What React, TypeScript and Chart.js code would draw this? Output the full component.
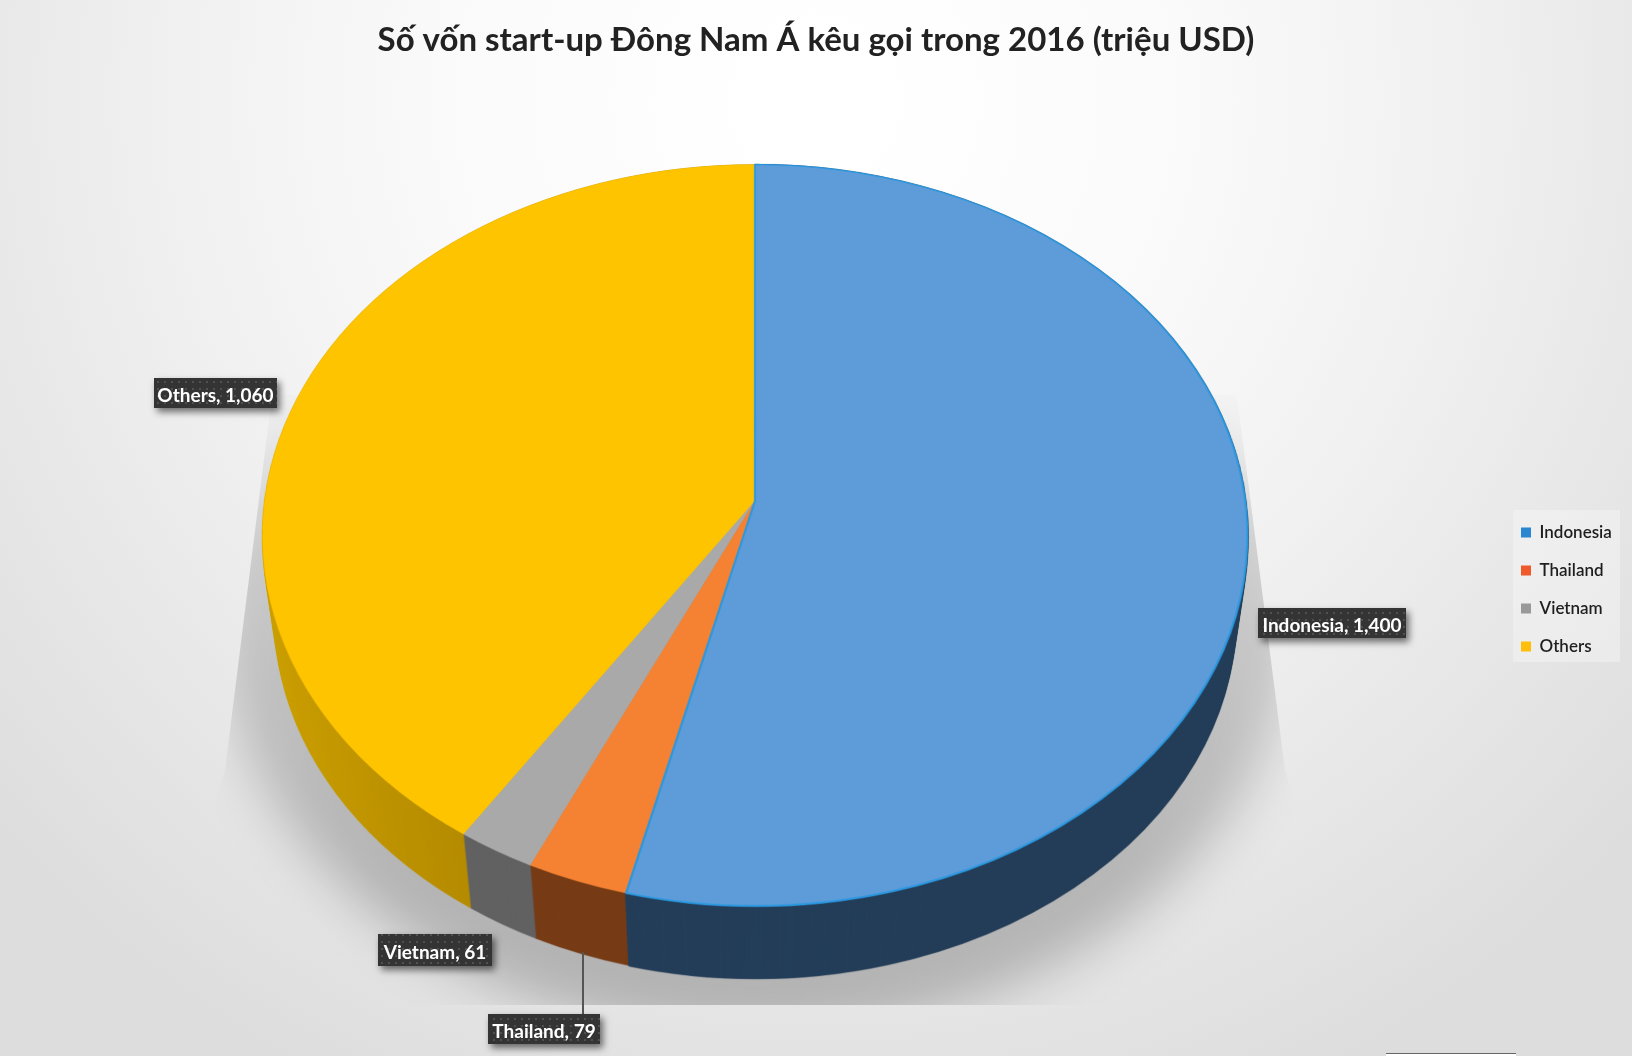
import React, { useEffect, useRef } from "react";
import { Chart, registerables } from "chart.js";

Chart.register(...registerables);

const CHART_TITLE = "Số vốn start-up Đông Nam Á kêu gọi trong 2016 (triệu USD)";
const categories = ["Indonesia", "Thailand", "Vietnam", "Others"];
const values = [1400, 79, 61, 1060];
const faceColors = ["#5D9CD8", "#F58232", "#A9A9A9", "#FFC400"];
const edgeColors = ["#2A97E0", "#F58232", "#A9A9A9", "#FFC400"];
const wallColors = ["#233D58", "#763B15", "#616161", "#A88000"];
const legendColors = ["#2B86D2", "#F0592A", "#999999", "#FFBE0A"];
const labelBoxes = [
  { x: 1258, y: 608, w: 148, h: 30 },
  { x: 488, y: 1014, w: 112, h: 30 },
  { x: 378, y: 934, w: 114, h: 32 },
  { x: 154, y: 378, w: 123, h: 30 },
];

const W = 1632;
const H = 1056;
const SS = 2;
const OFF = 1200;
const OFF_R = 590;
// perspective of the pie plane
const CX = 755;
const Y0 = 501;
const P = 321.3;
const G = -0.0924;
const A = 490.4;
const WALL_MID = 535;

function makeCanvas(w: number, h: number) {
  const c = document.createElement("canvas");
  c.width = w;
  c.height = h;
  return c;
}

function warp(src: HTMLCanvasElement) {
  const out = makeCanvas(W * SS, H * SS);
  const ctx = out.getContext("2d")!;
  ctx.imageSmoothingEnabled = true;
  ctx.imageSmoothingQuality = "high";
  const vOf = (y: number) => (y - Y0) / (P - G * y);
  for (let row = 150 * SS; row < 925 * SS; row++) {
    const v0 = vOf(row / SS);
    const v1 = vOf((row + 1) / SS);
    const denom = 1 + G * ((v0 + v1) / 2);
    const dw = (2 * A * (OFF / 2 / OFF_R)) / denom;
    ctx.drawImage(
      src,
      0,
      OFF / 2 + v0 * OFF_R,
      OFF,
      (v1 - v0) * OFF_R,
      (CX - dw / 2) * SS,
      row,
      dw * SS,
      1
    );
  }
  return out;
}

function arcLayer(chart: any, paint: (i: number, c: CanvasRenderingContext2D) => void) {
  const meta = chart.getDatasetMeta(0);
  const arcs = meta.data;
  const layer = makeCanvas(OFF, OFF);
  const lctx = layer.getContext("2d")!;
  for (let i = arcs.length - 1; i >= 0; i--) {
    const arc = arcs[i];
    const tmp = makeCanvas(OFF, OFF);
    const t = tmp.getContext("2d")!;
    const k = OFF_R / arc.outerRadius;
    t.setTransform(k, 0, 0, k, OFF / 2 - arc.x * k, OFF / 2 - arc.y * k);
    arc.draw(t);
    t.setTransform(1, 0, 0, 1, 0, 0);
    paint(i, t);
    lctx.drawImage(tmp, 0, 0);
  }
  return layer;
}

const scenePlugin = {
  id: "scene",
  beforeDraw(chart: any) {
    const ctx: CanvasRenderingContext2D = chart.ctx;
    ctx.save();
    // backdrop
    ctx.fillStyle = "#DEDEDE";
    ctx.fillRect(0, 0, W, H);
    const g = ctx.createRadialGradient(816, 100, 60, 816, 100, 1100);
    g.addColorStop(0, "#FFFFFF");
    g.addColorStop(0.3, "#FAFAFA");
    g.addColorStop(0.55, "#F1F1F1");
    g.addColorStop(0.75, "#E8E8E8");
    g.addColorStop(1, "#DDDDDD");
    ctx.fillStyle = g;
    ctx.fillRect(0, 0, W, H);
    // ground shadow, clipped to its wedge
    ctx.save();
    ctx.beginPath();
    ctx.moveTo(272, 395);
    ctx.lineTo(225, 770);
    ctx.lineTo(150, 1005);
    ctx.lineTo(1360, 1005);
    ctx.lineTo(1285, 770);
    ctx.lineTo(1237, 395);
    ctx.closePath();
    ctx.clip();
    ctx.filter = "blur(26px)";
    const sg = ctx.createLinearGradient(0, 385, 0, 880);
    sg.addColorStop(0, "rgba(0,0,0,0)");
    sg.addColorStop(0.3, "rgba(0,0,0,0.15)");
    sg.addColorStop(1, "rgba(0,0,0,0.22)");
    ctx.fillStyle = sg;
    ctx.beginPath();
    ctx.ellipse(755, 612, 538, 425, 0, 0, Math.PI * 2);
    ctx.fill();
    ctx.filter = "none";
    ctx.restore();
    // legend panel
    ctx.fillStyle = "rgba(255,255,255,0.3)";
    ctx.fillRect(1513, 510, 107, 152);
    // cropped box at the bottom edge
    ctx.fillStyle = "#FFFFFF";
    ctx.fillRect(1386, 1053, 130, 3);
    ctx.fillStyle = "#666666";
    ctx.fillRect(1386, 1053, 130, 1);
    ctx.restore();
  },
  afterLayout(chart: any) {
    const l = chart.legend;
    const w = l.width;
    const h = l.height;
    l.left = 1500;
    l.top = 503;
    l.right = 1500 + w;
    l.bottom = 503 + h;
  },
  beforeDatasetsDraw(chart: any) {
    const ctx: CanvasRenderingContext2D = chart.ctx;
    const top = arcLayer(chart, () => {});
    const wall = arcLayer(chart, (i, t) => {
      t.globalCompositeOperation = "source-in";
      if (i === 3) {
        const lg = t.createLinearGradient(0, 0, 420, 0);
        lg.addColorStop(0, "#CDA000");
        lg.addColorStop(1, wallColors[3]);
        t.fillStyle = lg;
      } else {
        t.fillStyle = wallColors[i];
      }
      t.fillRect(0, 0, OFF, OFF);
      t.globalCompositeOperation = "source-over";
    });
    const topWarp = warp(top);
    const wallWarp = warp(wall);
    ctx.save();
    ctx.imageSmoothingEnabled = true;
    ctx.imageSmoothingQuality = "high";
    const steps = 72;
    for (let n = steps; n >= 0; n--) {
      const t = n / steps;
      const s = 1 - 0.025 * t;
      const d = 81.5 * t;
      ctx.drawImage(wallWarp, CX - CX * s, WALL_MID - WALL_MID * s + d, W * s, H * s);
    }
    ctx.drawImage(topWarp, 0, 0, W, H);
    ctx.restore();
    return false;
  },
  afterDraw(chart: any) {
    const ctx: CanvasRenderingContext2D = chart.ctx;
    ctx.save();
    // leader line
    ctx.strokeStyle = "#555555";
    ctx.lineWidth = 2;
    ctx.beginPath();
    ctx.moveTo(583, 952);
    ctx.lineTo(583, 1014);
    ctx.stroke();
    // dotted label pattern
    const pc = makeCanvas(7, 7);
    const px = pc.getContext("2d")!;
    px.fillStyle = "#343434";
    px.fillRect(0, 0, 7, 7);
    px.fillStyle = "#505050";
    px.fillRect(3, 3, 2, 2);
    const pattern = ctx.createPattern(pc, "repeat")!;
    categories.forEach((c, i) => {
      const b = labelBoxes[i];
      ctx.save();
      ctx.shadowColor = "rgba(0,0,0,0.55)";
      ctx.shadowBlur = 7;
      ctx.shadowOffsetX = 3;
      ctx.shadowOffsetY = 4;
      ctx.fillStyle = "#343434";
      ctx.fillRect(b.x, b.y, b.w, b.h);
      ctx.restore();
      ctx.fillStyle = pattern;
      ctx.fillRect(b.x, b.y, b.w, b.h);
      ctx.font = 'bold 19px Lato, "Open Sans", sans-serif';
      ctx.fillStyle = "#FFFFFF";
      ctx.textAlign = "center";
      ctx.textBaseline = "middle";
      ctx.fillText(`${c}, ${values[i].toLocaleString("en-US")}`, b.x + b.w / 2, b.y + b.h / 2 + 2.5);
    });
    ctx.restore();
  },
};

export default function App() {
  const ref = useRef<HTMLCanvasElement>(null);
  useEffect(() => {
    const chart = new Chart(ref.current!, {
      type: "pie",
      data: {
        labels: categories,
        datasets: [
          {
            data: values,
            backgroundColor: faceColors,
            borderColor: edgeColors,
            borderWidth: [2, 0.5, 0.5, 0.5],
          },
        ],
      },
      options: {
        responsive: false,
        animation: false,
        devicePixelRatio: 1,
        layout: { padding: 0 },
        plugins: {
          tooltip: { enabled: false },
          title: {
            display: true,
            text: CHART_TITLE,
            color: "#222222",
            font: { family: 'Lato, "Open Sans", sans-serif', weight: "bold", size: 33 },
            padding: { top: 21, bottom: 19 },
          },
          legend: {
            display: true,
            position: "right",
            align: "start",
            labels: {
              boxWidth: 10,
              boxHeight: 10,
              padding: 21,
              color: "#1E1E1E",
              font: { family: 'Lato, "Open Sans", sans-serif', size: 17, weight: "600" },
              generateLabels(c: any) {
                return (Chart as any).overrides.pie.plugins.legend.labels
                  .generateLabels(c)
                  .map((it: any, i: number) => ({
                    ...it,
                    fillStyle: legendColors[i],
                    strokeStyle: legendColors[i],
                    lineWidth: 0,
                  }));
              },
            },
          },
        },
      },
      plugins: [scenePlugin],
    } as any);
    return () => chart.destroy();
  }, []);
  return (
    <div style={{ position: "fixed", left: 0, top: 0, width: W, height: H }}>
      <canvas ref={ref} width={W} height={H} style={{ display: "block" }} />
    </div>
  );
}
